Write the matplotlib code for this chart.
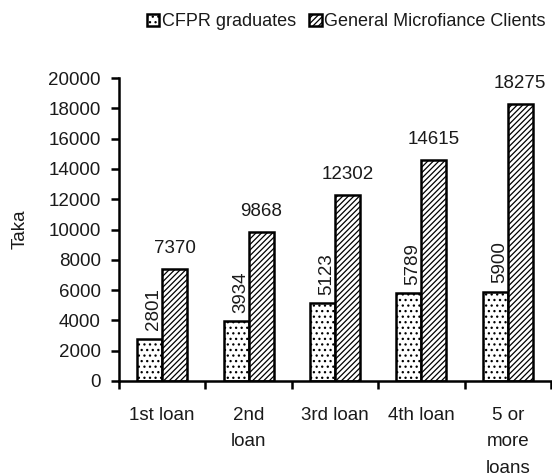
import matplotlib
matplotlib.use("Agg")
import matplotlib.pyplot as plt
import numpy as np

categories = ["1st loan", "2nd\nloan", "3rd loan", "4th loan", "5 or\nmore\nloans"]
cfpr = [2801, 3934, 5123, 5789, 5900]
general = [7370, 9868, 12302, 14615, 18275]
yticks = list(range(0, 20001, 2000))

plt.rcParams["font.family"] = ["Liberation Sans", "DejaVu Sans"]
plt.rcParams["hatch.linewidth"] = 0.9

FS = 13.5
TC = "#1a1a1a"
fig = plt.figure(figsize=(5.52, 4.76), dpi=100)
ax = fig.add_axes([0.2156, 0.1996, 0.7824, 0.6364])

x = np.arange(len(categories))
w = 0.29
b1 = ax.bar(x - w / 2, cfpr, w, color="white", edgecolor="black", linewidth=1.8,
            hatch="...", label="CFPR graduates")
b2 = ax.bar(x + w / 2, general, w, color="white", edgecolor="black", linewidth=1.8,
            hatch="//////", label="General Microfiance Clients")

for xi, v in zip(x, cfpr):
    ax.text(xi - w / 2 + 0.05, v + 550, str(v), rotation=90, ha="center", va="bottom",
            fontsize=FS, color=TC)
for xi, v in zip(x, general):
    ax.text(xi + w / 2, v + 1050, str(v), ha="center", va="baseline",
            fontsize=FS, color=TC)

ax.set_xlim(-0.5, 4.5)
ax.set_ylim(0, 20000)
ax.set_yticks(yticks)
ax.set_yticklabels([str(t) for t in yticks], fontsize=FS, color=TC)
ax.set_xticks(np.arange(-0.5, 5.0, 1.0))
ax.set_xticklabels([])
ax.set_xticks(x, minor=True)
ax.set_xticklabels(categories, minor=True, fontsize=FS, va="top", linespacing=1.7,
                   color=TC)
ax.tick_params(axis="x", which="minor", length=0, pad=19)
ax.tick_params(axis="x", which="major", direction="out", length=6, width=1.8)
ax.tick_params(axis="y", direction="out", length=6, width=1.8, pad=7)
ax.spines["top"].set_visible(False)
ax.spines["right"].set_visible(False)
ax.spines["left"].set_linewidth(1.8)
ax.spines["bottom"].set_linewidth(1.8)
ax.set_ylabel("Taka", fontsize=FS, labelpad=14, color=TC)

leg = fig.legend(handles=[b1, b2], loc="upper left", bbox_to_anchor=(0.266, 0.972), ncol=2,
                 frameon=False, fontsize=13, handlelength=0.7, handleheight=0.7,
                 handletextpad=0.12, columnspacing=0.75, borderpad=0.0,
                 borderaxespad=0.0)
for t in leg.get_texts():
    t.set_color(TC)

fig.savefig("out.png", dpi=100)
